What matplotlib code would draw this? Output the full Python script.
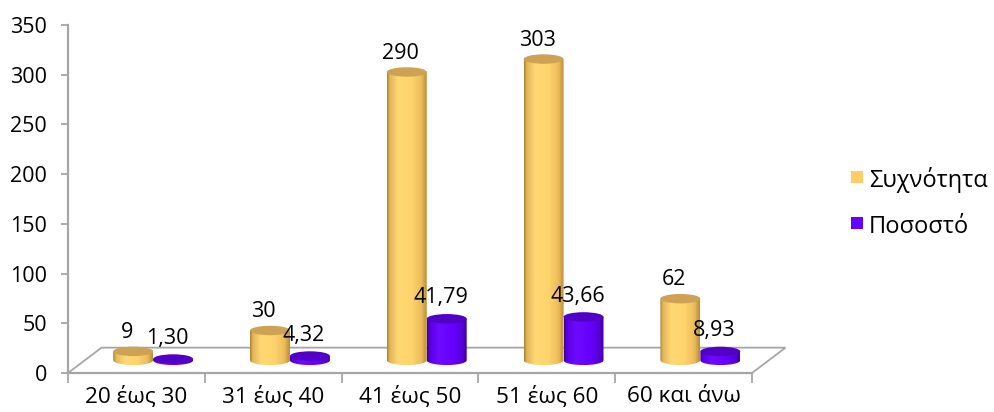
import numpy as np
import matplotlib
matplotlib.use("Agg")
import matplotlib.pyplot as plt
from matplotlib.path import Path
from matplotlib.patches import PathPatch, Ellipse, Polygon, Rectangle
from matplotlib.colors import LinearSegmentedColormap

plt.rcParams['font.family'] = ['Open Sans', 'DejaVu Sans']

# --- data ---
categories = ["20 έως 30", "31 έως 40", "41 έως 50", "51 έως 60", "60 και άνω"]
frequency = [9, 30, 290, 303, 62]
percentage = [1.30, 4.32, 41.79, 43.66, 8.93]
series_names = ["Συχνότητα", "Ποσοστό"]
y_ticks = [0, 50, 100, 150, 200, 250, 300, 350]

# --- styling ---
W, H = 995, 412
fig = plt.figure(figsize=(W / 100, H / 100), dpi=100)
ax_l, ax_r, ax_b, ax_t = 68, 752, 373, 25
ax = fig.add_axes([ax_l / W, (H - ax_b) / H, (ax_r - ax_l) / W, (ax_b - ax_t) / H])

grey = "#A6A6A6"
depth_dx, depth_dy = 0.245, 25.5      # floor depth offset (category units, value units)
bar_w = 0.292
cap_h = 9.5                            # height of the cylinder caps in value units
num_fs = 15.5
cat_fs = 16.2
leg_fs = 17

yellow_cm = LinearSegmentedColormap.from_list("gold", [
    (0.0, "#A8802F"), (0.07, "#E2B65A"), (0.28, "#FFD873"), (0.6, "#FFD46D"),
    (0.86, "#EDBD5B"), (1.0, "#B98B35")])
purple_cm = LinearSegmentedColormap.from_list("violet", [
    (0.0, "#3F0098"), (0.08, "#5C00E6"), (0.3, "#6E0AFF"), (0.65, "#6600FF"),
    (0.88, "#5600D8"), (1.0, "#3E0096")])
top_colors = ["#CDA255", "#5200C6"]
legend_colors = ["#FFCC66", "#6600FF"]

# floor of the 3D plot area
floor = Polygon([(-0.5, 0), (4.5, 0), (4.5 + depth_dx, depth_dy), (-0.5 + depth_dx, depth_dy)],
                closed=True, fill=False, edgecolor=grey, lw=1.3, zorder=1, clip_on=False)
ax.add_patch(floor)

grad = np.linspace(0, 1, 256).reshape(1, -1)


def cylinder(xc, value, cmap, top_color, z):
    base = depth_dy / 2
    top = base + value
    x0, x1 = xc - bar_w / 2, xc + bar_w / 2
    t = np.linspace(np.pi, 2 * np.pi, 60)
    bottom_arc = np.column_stack([xc + bar_w / 2 * np.cos(t), base + cap_h / 2 * np.sin(t)])
    verts = np.vstack([[x0, top], bottom_arc, [x1, top], [x0, top]])
    codes = [Path.MOVETO] + [Path.LINETO] * (len(verts) - 2) + [Path.CLOSEPOLY]
    body = PathPatch(Path(verts, codes), facecolor="none", edgecolor="none", zorder=z)
    ax.add_patch(body)
    im = ax.imshow(grad, cmap=cmap, extent=(x0, x1, base - cap_h / 2, top), aspect="auto",
                   origin="lower", zorder=z, interpolation="bilinear")
    im.set_clip_path(body)
    ax.add_patch(Ellipse((xc, top), bar_w, cap_h, facecolor=top_color, edgecolor="none",
                         zorder=z + 0.1))
    return top


x = np.arange(len(categories))
for i in x:
    cx = i + depth_dx / 2
    ty = cylinder(cx - bar_w / 2, frequency[i], yellow_cm, top_colors[0], 3)
    ax.text(cx - bar_w / 2 - 0.045, ty + 19, f"{frequency[i]}", ha="center", va="center",
            fontsize=num_fs, zorder=6)
    tp = cylinder(cx + bar_w / 2, percentage[i], purple_cm, top_colors[1], 4)
    ax.text(cx + bar_w / 2 - 0.045, tp + 21, f"{percentage[i]:.2f}".replace(".", ","),
            ha="center", va="center", fontsize=num_fs, zorder=6)

ax.set_xlim(-0.5, len(categories) - 0.5)
ax.set_ylim(0, 350)

# axes
for s in ["top", "right"]:
    ax.spines[s].set_visible(False)
for s in ["left", "bottom"]:
    ax.spines[s].set_color(grey)
    ax.spines[s].set_linewidth(1.6)
ax.set_yticks(y_ticks)
ax.tick_params(axis="y", length=5, width=1.3, color=grey, pad=10, labelsize=num_fs)
ax.set_xticks(x)
ax.set_xticklabels(categories)
ax.set_xticks(np.arange(-0.5, len(categories)), minor=True)
ax.tick_params(axis="x", which="major", length=0, pad=9.5, labelsize=cat_fs)
ax.tick_params(axis="x", which="minor", length=7, width=1.3, color=grey)

# legend
legend_baselines = [187, 233]
for name, color, yb in zip(series_names, legend_colors, legend_baselines):
    fig.add_artist(Rectangle((851 / W, 1 - (yb - 4) / H), 12 / W, 12 / H,
                             transform=fig.transFigure, facecolor=color, edgecolor="none"))
    fig.text(869 / W, 1 - yb / H, name, fontsize=leg_fs, ha="left", va="baseline")

fig.savefig("out.png", dpi=100)
